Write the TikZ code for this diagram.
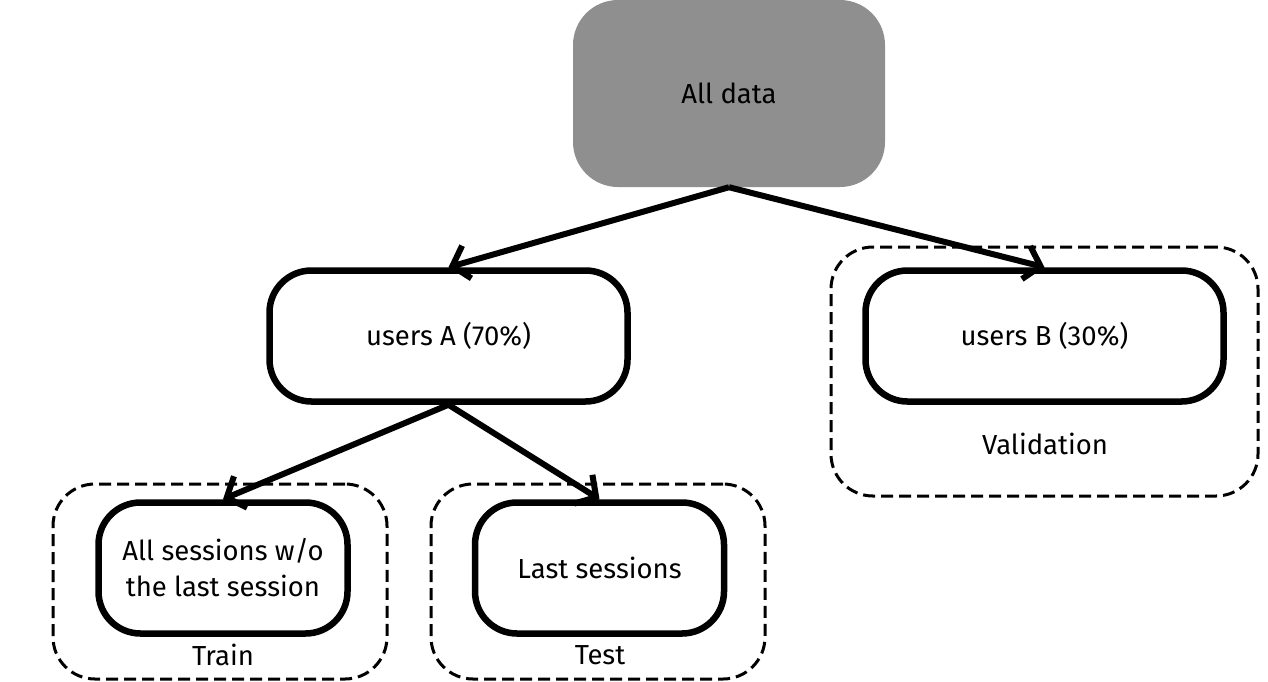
\documentclass[tikz,border=0pt]{standalone}
\usepackage{fontspec}
\setmainfont{Fira Sans}
\usetikzlibrary{arrows.meta}
\begin{document}
\begin{tikzpicture}[x=1pt,y=-1pt,
  box/.style={draw=black, line width=6.5pt, rounded corners=42pt, fill=white,
    minimum width=358pt, minimum height=131pt, inner sep=0pt, align=center,
    font=\fontsize{27.5}{36}\selectfont},
  smallbox/.style={box, minimum width=249pt},
  group/.style={draw=black, line width=3pt, rounded corners=42pt,
    dash pattern=on 12pt off 6pt, inner sep=0pt},
  lbl/.style={font=\fontsize{27.5}{32}\selectfont, inner sep=0pt},
  arr/.style={line width=6pt, -{Straight Barb[length=15pt,width=34pt,line width=6pt]}}
]
\useasboundingbox (0,0) rectangle (1268,681);
% groups
\node[group, minimum width=427pt, minimum height=249pt] (valbox) at (1044.5,371.5) {};
\node[group, minimum width=334pt, minimum height=195pt] (trainbox) at (220,581.5) {};
\node[group, minimum width=334pt, minimum height=195pt] (testbox) at (598,581.5) {};
% nodes
\node[fill={rgb,255:red,143;green,143;blue,143}, rounded corners=45pt, minimum width=312pt,
  minimum height=187pt, inner sep=0pt, font=\fontsize{27.5}{32}\selectfont] (all) at (729,93.5) {All data};
\node[box] (usersA) at (448.5,336) {users A (70\%)};
\node[box] (usersB) at (1044.5,336) {users B (30\%)};
\node[smallbox] (train) at (223,568) {All sessions w/o\\the last session};
\node[smallbox] (test) at (599.5,568) {Last sessions};
% labels
\node[lbl] (vallbl) at (1045,444) {Validation};
\node[lbl] (trainlbl) at (223,655) {Train};
\node[lbl] (testlbl) at (600,655) {Test};
% arrows
\draw[arr] (all.south) -- (usersA.north);
\draw[arr] (all.south) -- (usersB.north);
\draw[arr] (usersA.south) -- (train.north);
\draw[arr] (usersA.south) -- (test.north);
\end{tikzpicture}
\end{document}
